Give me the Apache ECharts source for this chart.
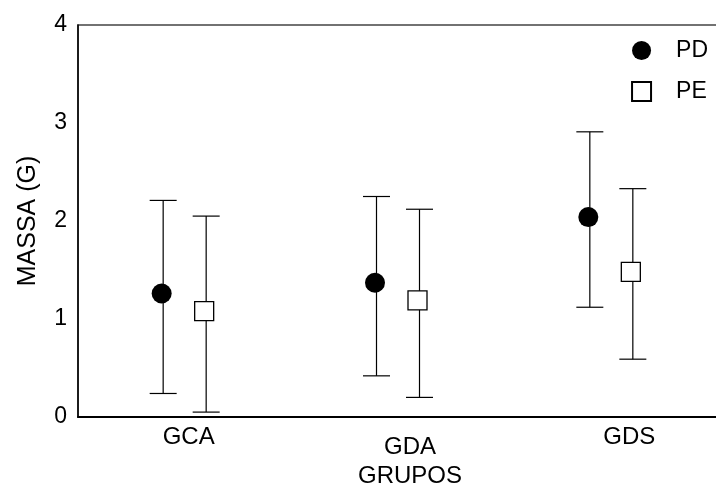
<!DOCTYPE html>
<html>
<head>
<meta charset="UTF-8">
<title></title>
<script type="text/javascript" src="https://cdn.jsdelivr.net/npm/echarts@6/dist/echarts.min.js"></script>
</head>
<body style="margin:0">
<div id="main" style="height:483px;width:716px"></div>
<script>
// 数据
var groups = ['GCA', 'GDA', 'GDS'];
var yTicks = [0, 1, 2, 3, 4];
var pdMean = [1.26, 1.37, 2.04];
var pdLow = [0.24, 0.42, 1.12];
var pdHigh = [2.21, 2.25, 2.91];
var peMean = [1.08, 1.19, 1.48];
var peLow = [0.05, 0.20, 0.59];
var peHigh = [2.05, 2.12, 2.33];

var FONT = '"Liberation Sans", Arial, sans-serif';
var SHIFT = 21.5; // 每组内两个点的像素偏移

function barData(low, high) {
    return groups.map(function (g, i) { return [i, low[i], high[i]]; });
}

// 误差线
function errorBar(dx) {
    return function (params, api) {
        var x = api.value(0);
        var top = api.coord([x, api.value(2)]);
        var bot = api.coord([x, api.value(1)]);
        var cx = top[0] + dx, cap = 13.5;
        var st = { stroke: '#000', lineWidth: 1.2 };
        return {
            type: 'group',
            children: [
                { type: 'line', shape: { x1: cx, y1: top[1], x2: cx, y2: bot[1] }, style: st },
                { type: 'line', shape: { x1: cx - cap, y1: top[1], x2: cx + cap, y2: top[1] }, style: st },
                { type: 'line', shape: { x1: cx - cap, y1: bot[1], x2: cx + cap, y2: bot[1] }, style: st }
            ]
        };
    };
}

var myChart = echarts.init(document.getElementById('main'));
var option = {
    animation: false,
    textStyle: { fontFamily: FONT, color: '#000' },
    grid: {
        left: 78, top: 25, width: 640, height: 392,
        outerBoundsMode: 'none',
        containLabel: false,
        show: true, borderColor: '#444', borderWidth: 1.5
    },
    legend: {
        orient: 'vertical',
        right: 3,
        top: 34,
        itemWidth: 19,
        itemHeight: 19,
        itemGap: 18,
        data: ['PD', 'PE'],
        textStyle: { fontFamily: FONT, fontSize: 23, color: '#000', lineHeight: 19, padding: [0, 0, 0, 20] }
    },
    xAxis: {
        type: 'category',
        data: groups,
        name: 'GRUPOS',
        nameLocation: 'middle',
        nameGap: 39,
        nameTextStyle: { fontFamily: FONT, fontSize: 24, color: '#000', padding: [0, 0, 0, 24] },
        axisLine: { lineStyle: { color: '#000', width: 2 } },
        axisTick: { show: false },
        axisLabel: {
            margin: 8,
            interval: 0,
            formatter: function (v) { return '{' + v + '|' + v + '}'; },
            rich: {
                GCA: { fontFamily: FONT, fontSize: 24, color: '#000', padding: [0, 0, 0, 8] },
                GDA: { fontFamily: FONT, fontSize: 24, color: '#000', padding: [10, 0, 0, 24] },
                GDS: { fontFamily: FONT, fontSize: 24, color: '#000', padding: [0, 0, 0, 36] }
            }
        }
    },
    yAxis: {
        type: 'value',
        min: yTicks[0],
        max: yTicks[yTicks.length - 1],
        interval: 1,
        name: 'MASSA (G)',
        nameLocation: 'middle',
        nameGap: 37,
        nameTextStyle: { fontFamily: FONT, fontSize: 25, color: '#000' },
        axisLine: { show: true, lineStyle: { color: '#000', width: 1.5 } },
        axisTick: { show: false },
        splitLine: { show: false },
        axisLabel: { fontFamily: FONT, fontSize: 23, color: '#000', margin: 11 }
    },
    series: [
        {
            type: 'custom',
            renderItem: errorBar(-SHIFT),
            data: barData(pdLow, pdHigh),
            z: 1
        },
        {
            type: 'custom',
            renderItem: errorBar(SHIFT),
            data: barData(peLow, peHigh),
            z: 1
        },
        {
            name: 'PD',
            type: 'scatter',
            data: pdMean,
            symbol: 'circle',
            symbolSize: 20,
            symbolOffset: [-SHIFT - 1.5, 0],
            itemStyle: { color: '#000', opacity: 1 },
            z: 5
        },
        {
            name: 'PE',
            type: 'scatter',
            data: peMean,
            symbol: 'rect',
            symbolSize: 19,
            symbolOffset: [SHIFT - 2, 0],
            itemStyle: { color: '#fff', borderColor: '#000', borderWidth: 1.3, opacity: 1 },
            z: 5
        }
    ]
};
myChart.setOption(option);
</script>
</body>
</html>
